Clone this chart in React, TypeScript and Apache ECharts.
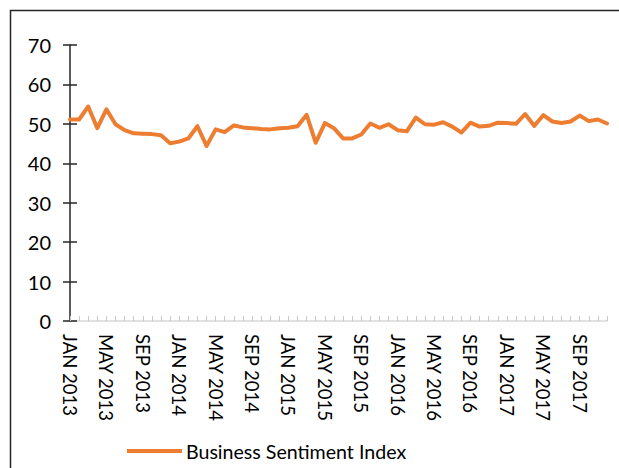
import React, { useEffect, useRef } from "react";
import * as echarts from "echarts";

const MONTHS = ["JAN", "FEB", "MAR", "APR", "MAY", "JUN", "JUL", "AUG", "SEP", "OCT", "NOV", "DEC"];
const YEARS = [2013, 2014, 2015, 2016, 2017];
const categories: string[] = YEARS.flatMap((y) => MONTHS.map((m) => `${m} ${y}`));

const sentiment = [
  51.1, 51.1, 54.4, 48.9, 53.7, 49.9, 48.4, 47.6, 47.5, 47.4, 47.1, 45.1,
  45.5, 46.3, 49.4, 44.4, 48.6, 47.9, 49.6, 49.1, 48.9, 48.7, 48.6, 48.9,
  49.0, 49.4, 52.3, 45.2, 50.2, 48.9, 46.3, 46.3, 47.3, 50.1, 49.0, 49.9,
  48.4, 48.1, 51.6, 49.9, 49.8, 50.4, 49.3, 47.8, 50.3, 49.3, 49.5, 50.3,
  50.2, 50.0, 52.5, 49.5, 52.2, 50.6, 50.2, 50.6, 52.1, 50.7, 51.1, 50.1,
];

const seriesName = "Business Sentiment Index";
const FONT = "Lato";

export default function App() {
  const ref = useRef<HTMLDivElement>(null);
  useEffect(() => {
    document.body.style.margin = "0";
    const chart = echarts.init(ref.current!, undefined, { renderer: "svg" });
    chart.setOption({
      animation: false,
      backgroundColor: "#ffffff",
      textStyle: { fontFamily: FONT },
      graphic: [
        {
          type: "rect",
          shape: { x: 10.5, y: 10.5, width: 800, height: 800 },
          style: { fill: "none", stroke: "#262626", lineWidth: 1.5 },
          silent: true,
        },
      ],
      grid: { left: 70, right: 12, top: 45, bottom: 147 },
      legend: {
        left: 127,
        top: 441,
        padding: 0,
        icon: "rect",
        itemWidth: 55,
        itemHeight: 4,
        itemGap: 5,
        textStyle: { fontFamily: FONT, fontSize: 19.6, color: "#000", padding: [0, 0, 0, -1] },
        data: [seriesName],
      },
      xAxis: {
        type: "category",
        data: categories,
        boundaryGap: false,
        axisLine: { lineStyle: { color: "#d9d9d9", width: 1.5 } },
        axisTick: { show: true, inside: true, length: 5, interval: 0, lineStyle: { color: "#c8c8c8" } },
        axisLabel: {
          interval: 3,
          rotate: -90,
          margin: 13,
          fontFamily: FONT,
          fontSize: 18.5,
          color: "#000",
        },
        splitLine: { show: false },
      },
      yAxis: [
        {
          type: "value",
          min: 0,
          max: 70,
          interval: 10,
          position: "left",
          axisLine: { show: true, lineStyle: { color: "#262626", width: 1.5 } },
          axisTick: { show: true, length: 7, lineStyle: { color: "#262626", width: 1.5 } },
          axisLabel: { margin: 19, fontFamily: FONT, fontSize: 20, color: "#000" },
          splitLine: { show: false },
        },
        {
          type: "value",
          min: 0,
          max: 70,
          interval: 10,
          position: "left",
          axisLine: { show: false },
          axisTick: { show: true, inside: true, length: 7, lineStyle: { color: "#262626", width: 1.5 } },
          axisLabel: { show: false },
          splitLine: { show: false },
        },
      ],
      series: [
        {
          name: seriesName,
          type: "line",
          data: sentiment,
          yAxisIndex: 0,
          showSymbol: false,
          symbol: "none",
          lineStyle: { color: "#ED7D31", width: 4, cap: "round", join: "round" },
          itemStyle: { color: "#ED7D31" },
        },
      ],
    });
    return () => chart.dispose();
  }, []);
  return <div ref={ref} style={{ width: 619, height: 468 }} />;
}
